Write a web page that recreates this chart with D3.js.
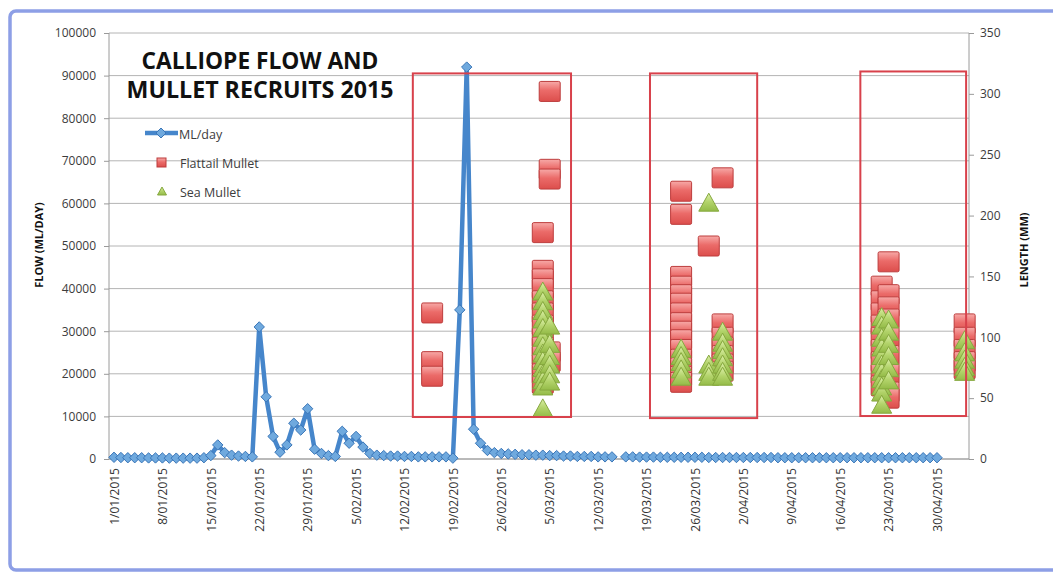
<!DOCTYPE html>
<html><head><meta charset="utf-8">
<script src="https://cdn.jsdelivr.net/npm/d3@7"></script>
<style>body{margin:0;background:#fff}svg{display:block}</style>
</head><body>
<svg id="c" width="1053" height="573"></svg>
<script>
// ---------- DATA ----------
const flowStart = "2015-01-01";
// daily flow ML/day, 1 Jan .. 30 Apr 2015 (null = missing)
const flowValues = [
  400,350,300,300,300,250,250,250,200,200,200,200,200,300, // 1-14 Jan
  800,3300,1500,900,700,600,500,                           // 15-21 Jan
  31000,14600,5300,1600,3300,8400,6800,11800,2300,1300,     // 22-31 Jan
  800,600,6500,3700,5300,2800,1300,900,                     // 1-8 Feb
  800,700,700,600,600,500,500,500,500,500,                  // 9-18 Feb
  200,35000,92000,7000,3700,2000,1500,1300,1200,1100,       // 19-28 Feb
  1000,1000,900,900,800,800,700,700,600,600,600,500,500,500,null, // 1-15 Mar
  500,500,450,450,450,400,400,400,400,400,
  400,400,350,350,350,350,350,350,350,350,
  350,350,300,300,300,300,300,300,300,300,
  300,300,300,300,300,300,300,300,300,300,
  300,300,300,300,300,300
];
const xTickDates = ["2015-01-01","2015-01-08","2015-01-15","2015-01-22","2015-01-29","2015-02-05",
  "2015-02-12","2015-02-19","2015-02-26","2015-03-05","2015-03-12","2015-03-19","2015-03-26",
  "2015-04-02","2015-04-09","2015-04-16","2015-04-23","2015-04-30"];
const flowTicks = [0,10000,20000,30000,40000,50000,60000,70000,80000,90000,100000];
const lengthTicks = [0,50,100,150,200,250,300,350];

const flattailDates = [
  "2015-02-16","2015-02-16","2015-02-16",
  "2015-03-04","2015-03-04","2015-03-04","2015-03-04","2015-03-04","2015-03-04","2015-03-04","2015-03-04","2015-03-04","2015-03-04","2015-03-04","2015-03-04","2015-03-04",
  "2015-03-05","2015-03-05","2015-03-05","2015-03-05","2015-03-05",
  "2015-03-24","2015-03-24","2015-03-24","2015-03-24","2015-03-24","2015-03-24","2015-03-24","2015-03-24","2015-03-24","2015-03-24","2015-03-24","2015-03-24","2015-03-24","2015-03-24","2015-03-24",
  "2015-03-28",
  "2015-03-30","2015-03-30","2015-03-30","2015-03-30","2015-03-30","2015-03-30","2015-03-30",
  "2015-04-22","2015-04-22","2015-04-22","2015-04-22","2015-04-22","2015-04-22","2015-04-22","2015-04-22","2015-04-22",
  "2015-04-23","2015-04-23","2015-04-23","2015-04-23","2015-04-23","2015-04-23","2015-04-23","2015-04-23","2015-04-23",
  "2015-05-04","2015-05-04","2015-05-04","2015-05-04","2015-05-04"
];
const flattailLengths = [
  120,80,68,
  186,155,148,140,130,120,110,100,92,85,78,70,62,
  302,238,230,88,80,
  220,201,150,142,135,128,120,112,105,98,90,82,75,68,63,
  175,
  231,111,100,92,85,78,72,
  142,130,120,110,100,90,80,70,60,
  162,135,125,115,100,85,70,55,50,
  111,100,90,80,74
];
const seaDates = [
  "2015-03-04","2015-03-04","2015-03-04","2015-03-04","2015-03-04","2015-03-04","2015-03-04","2015-03-04","2015-03-04","2015-03-04","2015-03-04","2015-03-04","2015-03-04","2015-03-04",
  "2015-03-05","2015-03-05","2015-03-05","2015-03-05","2015-03-05","2015-03-05",
  "2015-03-24","2015-03-24","2015-03-24","2015-03-24","2015-03-24",
  "2015-03-28","2015-03-28","2015-03-28","2015-03-28",
  "2015-03-30","2015-03-30","2015-03-30","2015-03-30","2015-03-30","2015-03-30","2015-03-30",
  "2015-04-22","2015-04-22","2015-04-22","2015-04-22","2015-04-22","2015-04-22","2015-04-22","2015-04-22","2015-04-22","2015-04-22","2015-04-22",
  "2015-04-23","2015-04-23","2015-04-23","2015-04-23","2015-04-23","2015-04-23",
  "2015-05-04","2015-05-04","2015-05-04","2015-05-04","2015-05-04"
];
const seaLengths = [
  138,130,122,115,108,100,93,87,81,75,70,65,60,42,
  110,95,85,78,70,64,
  91,85,80,74,68,
  211,78,72,68,
  105,96,90,84,78,72,68,
  117,110,100,92,85,78,72,66,60,55,45,
  115,105,95,85,75,65,
  98,88,82,76,72
];
// highlight boxes: date span and length span (mm)
const boxStarts = ["2015-02-13T05:00Z","2015-03-19T12:00Z","2015-04-18T22:00Z"];
const boxEnds   = ["2015-03-08T02:00Z","2015-04-04T00:00Z","2015-05-04T05:00Z"];
const boxLows   = [34.5, 33.6, 35.3];
const boxHighs  = [316.8, 316.8, 318.4];

const seriesNames = ["ML/day","Flattail Mullet","Sea Mullet"];
const titleLines = ["CALLIOPE FLOW AND","MULLET RECRUITS 2015"];

// ---------- CHART ----------
const svg = d3.select("#c");
const font = "'Open Sans', 'DejaVu Sans', sans-serif";
const P = {l:109, r:969, t:33, b:459};
const parse = s => new Date(s.length > 10 ? s : s + "T00:00:00Z");
const day0 = parse(flowStart);
const x = d3.scaleUtc().domain([day0, parse("2015-04-30")]).range([114, 937]);
const yL = d3.scaleLinear().domain([0,100000]).range([P.b, P.t]);
const yR = d3.scaleLinear().domain([0,350]).range([P.b, P.t]);

// defs: gradients
const defs = svg.append("defs");
const gR = defs.append("linearGradient").attr("id","gRed").attr("x1",0).attr("y1",0).attr("x2",0).attr("y2",1);
gR.append("stop").attr("offset","0%").attr("stop-color","#f7aaa8");
gR.append("stop").attr("offset","45%").attr("stop-color","#eb6b69");
gR.append("stop").attr("offset","100%").attr("stop-color","#dc4e4c");
const gG = defs.append("linearGradient").attr("id","gGreen").attr("x1",0).attr("y1",0).attr("x2",0).attr("y2",1);
gG.append("stop").attr("offset","0%").attr("stop-color","#dcefa8");
gG.append("stop").attr("offset","50%").attr("stop-color","#b2d36a");
gG.append("stop").attr("offset","100%").attr("stop-color","#94bb48");

// outer border
svg.append("rect").attr("x",10).attr("y",11).attr("width",1090).attr("height",559)
  .attr("rx",6).attr("fill","none").attr("stroke","#8d9fe6").attr("stroke-width",3.5);

// gridlines
svg.append("g").selectAll("line").data(flowTicks).join("line")
  .attr("x1",P.l).attr("x2",P.r).attr("y1",d=>yL(d)).attr("y2",d=>yL(d))
  .attr("stroke","#b4b4b4").attr("stroke-width",1);
// axis lines
svg.append("line").attr("x1",P.l).attr("x2",P.l).attr("y1",P.t).attr("y2",P.b).attr("stroke","#9a9a9a");
svg.append("line").attr("x1",P.r).attr("x2",P.r).attr("y1",P.t).attr("y2",P.b).attr("stroke","#9a9a9a");
svg.append("line").attr("x1",P.l).attr("x2",P.r).attr("y1",P.b).attr("y2",P.b).attr("stroke","#9a9a9a");

// left axis
const axL = svg.append("g").attr("transform",`translate(${P.l},0)`)
  .call(d3.axisLeft(yL).tickValues(flowTicks).tickSize(5).tickPadding(8).tickFormat(d3.format("d")));
axL.select(".domain").remove();
axL.selectAll("line").attr("stroke","#9a9a9a");
axL.selectAll("text").attr("font-family",font).attr("font-size",12).attr("fill","#3c3c3c");

// right axis
const axR = svg.append("g").attr("transform",`translate(${P.r},0)`)
  .call(d3.axisRight(yR).tickValues(lengthTicks).tickSize(5).tickPadding(6).tickFormat(d3.format("d")));
axR.select(".domain").remove();
axR.selectAll("line").attr("stroke","#9a9a9a");
axR.selectAll("text").attr("font-family",font).attr("font-size",12).attr("fill","#3c3c3c");

// bottom axis labels
const axB = svg.append("g").attr("transform",`translate(0,${P.b})`)
  .call(d3.axisBottom(x).tickValues(xTickDates.map(parse)).tickSize(0).tickFormat(d3.utcFormat("%-d/%m/%Y")));
axB.select(".domain").remove();
axB.selectAll("text").attr("font-family",font).attr("font-size",12).attr("fill","#333")
  .attr("transform","rotate(-90)").attr("text-anchor","end").attr("x",-9).attr("y",0).attr("dy","0.35em");

// axis titles
svg.append("text").attr("transform","translate(38,245) rotate(-90)").attr("text-anchor","middle")
  .attr("dominant-baseline","central").attr("font-family",font).attr("font-weight","bold")
  .attr("font-size",11).attr("fill","#111").text("FLOW (ML/DAY)");
svg.append("text").attr("transform","translate(1023,250) rotate(-90)").attr("text-anchor","middle")
  .attr("dominant-baseline","central").attr("font-family",font).attr("font-weight","bold")
  .attr("font-size",11).attr("fill","#111").text("LENGTH (MM)");

// flow line
const flowData = flowValues.map((v,i)=>({date:d3.utcDay.offset(day0,i), v}));
const line = d3.line().defined(d=>d.v!==null).x(d=>x(d.date)).y(d=>yL(d.v));
svg.append("path").datum(flowData).attr("d",line).attr("fill","none")
  .attr("stroke","#4686cb").attr("stroke-width",4.5).attr("stroke-linejoin","round");
const diamond = r => `M0,${-r}L${r},0L0,${r}L${-r},0Z`;
svg.append("g").selectAll("path").data(flowData.filter(d=>d.v!==null)).join("path")
  .attr("transform",d=>`translate(${x(d.date)},${yL(d.v)})`).attr("d",diamond(5.2))
  .attr("fill","#6fa9de").attr("stroke","#3a76b8").attr("stroke-width",1);

// flattail squares
const sq = 20;
svg.append("g").selectAll("rect").data(flattailDates.map((d,i)=>({date:parse(d), len:flattailLengths[i]}))).join("rect")
  .attr("x",d=>x(d.date)-sq/2-0.5).attr("y",d=>yR(d.len)-sq/2).attr("width",sq+1).attr("height",sq)
  .attr("rx",1.5).attr("fill","url(#gRed)").attr("stroke","#bd3d3d").attr("stroke-width",1);

// sea mullet triangles
const tri = (w,h) => `M0,${-h/2}L${w/2},${h/2}L${-w/2},${h/2}Z`;
svg.append("g").selectAll("path").data(seaDates.map((d,i)=>({date:parse(d), len:seaLengths[i]}))).join("path")
  .attr("transform",d=>`translate(${x(d.date)},${yR(d.len)})`).attr("d",tri(20,18))
  .attr("fill","url(#gGreen)").attr("stroke","#86a83e").attr("stroke-width",1);

// highlight boxes
svg.append("g").selectAll("rect").data(boxStarts.map((s,i)=>({s:parse(s), e:parse(boxEnds[i]), lo:boxLows[i], hi:boxHighs[i]}))).join("rect")
  .attr("x",d=>x(d.s)).attr("y",d=>yR(d.hi)).attr("width",d=>x(d.e)-x(d.s)).attr("height",d=>yR(d.lo)-yR(d.hi))
  .attr("fill","none").attr("stroke","#d8414b").attr("stroke-width",2);

// title
const tg = svg.append("g");
titleLines.forEach((t,i)=>{
  const tx = tg.append("text").attr("x",260).attr("y",69+i*29).attr("text-anchor","middle")
    .attr("font-family",font).attr("font-weight","bold").attr("font-size",23).attr("fill","#111").text(t);
  const target = i===0 ? 237 : 267;
  const w = tx.node().getComputedTextLength();
  tx.attr("font-size", 23*target/w);
});

// legend
const lg = svg.append("g").attr("font-family",font).attr("font-size",12.5).attr("fill","#3c3c3c");
lg.append("line").attr("x1",145).attr("x2",178).attr("y1",133).attr("y2",133).attr("stroke","#4686cb").attr("stroke-width",4.5);
lg.append("path").attr("transform","translate(161,133)").attr("d",diamond(5)).attr("fill","#6fa9de").attr("stroke","#3a76b8");
lg.append("rect").attr("x",157).attr("y",158).attr("width",9).attr("height",9).attr("fill","url(#gRed)").attr("stroke","#bd3d3d");
lg.append("path").attr("transform","translate(162,191)").attr("d",tri(9,8)).attr("fill","url(#gGreen)").attr("stroke","#86a83e");
[135,163.5,192.5].forEach((yy,i)=>{
  lg.append("text").attr("x",i===0?179:180).attr("y",yy).attr("dy","0.35em").text(seriesNames[i]);
});
</script>
</body></html>
